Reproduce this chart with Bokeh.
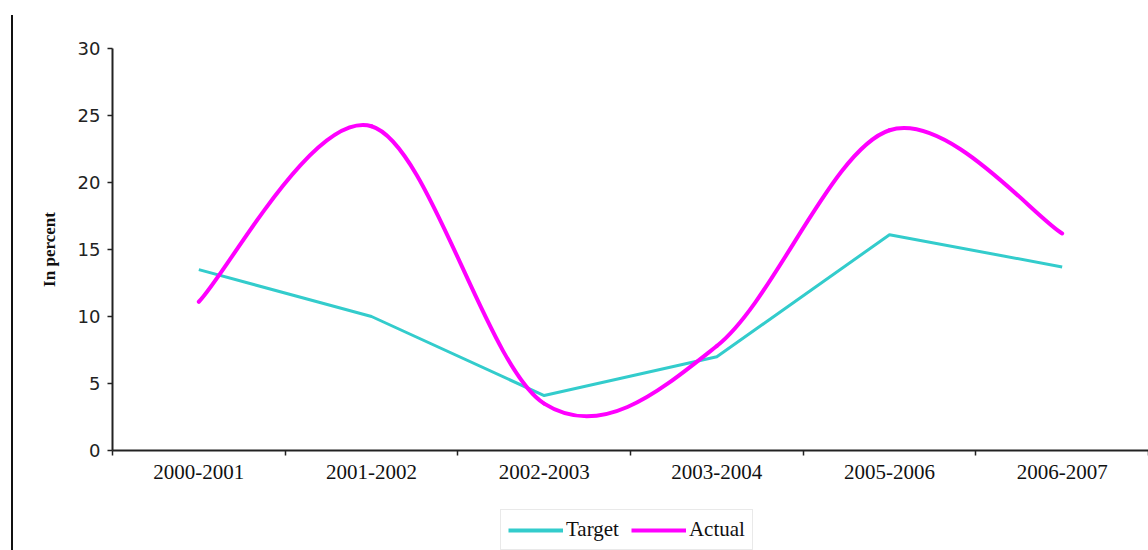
from bokeh.plotting import figure
from bokeh.models import FixedTicker, Legend, LegendItem, Range1d, Div
from bokeh.layouts import row, column
from bokeh.embed import file_html
from bokeh.resources import INLINE

# Plan targets versus actual outcomes, per year
years = ["2000-2001", "2001-2002", "2002-2003", "2003-2004", "2005-2006", "2006-2007"]
target = [13.5, 10.0, 4.1, 7.0, 16.1, 13.7]
actual = [11.1, 24.2, 3.5, 7.8, 23.9, 16.2]
y_ticks = [0, 5, 10, 15, 20, 25, 30]

TARGET_COLOR = "#33CCCC"
ACTUAL_COLOR = "#FF00FF"

xs = list(range(1, len(years) + 1))


def smooth_segments(x, y):
    """Cubic Bezier pieces through every point (Catmull-Rom style smoothing)."""
    n = len(x)
    seg = {k: [] for k in ("x0", "y0", "x1", "y1", "cx0", "cy0", "cx1", "cy1")}
    for i in range(n - 1):
        a = max(i - 1, 0)
        d = min(i + 2, n - 1)
        seg["x0"].append(x[i]); seg["y0"].append(y[i])
        seg["x1"].append(x[i + 1]); seg["y1"].append(y[i + 1])
        seg["cx0"].append(x[i] + (x[i + 1] - x[a]) / 6)
        seg["cy0"].append(y[i] + (y[i + 1] - y[a]) / 6)
        seg["cx1"].append(x[i + 1] - (x[d] - x[i]) / 6)
        seg["cy1"].append(y[i + 1] - (y[d] - y[i]) / 6)
    return seg


p = figure(
    width=1135, height=505,
    x_range=Range1d(0.5, len(years) + 0.5),
    y_range=Range1d(y_ticks[0], y_ticks[-1]),
    output_backend="svg", toolbar_location=None,
    min_border_left=99, min_border_right=0, min_border_top=48, min_border_bottom=55,
)
p.outline_line_color = None
p.xgrid.visible = False
p.ygrid.visible = False
p.background_fill_color = "white"
p.border_fill_color = "white"

p.line(xs, target, line_color=TARGET_COLOR, line_width=3, line_join="round")
p.bezier(line_color=ACTUAL_COLOR, line_width=4, line_cap="round",
         source=smooth_segments(xs, actual),
         x0="x0", y0="y0", x1="x1", y1="y1",
         cx0="cx0", cy0="cy0", cx1="cx1", cy1="cy1")

# x axis: labels centred on categories, tick marks between them
xa = p.xaxis[0]
xa.ticker = FixedTicker(ticks=xs, minor_ticks=[v + 0.5 for v in range(len(years) + 1)])
xa.major_label_overrides = {x: lab for x, lab in zip(xs, years)}
xa.major_tick_line_color = None
xa.major_tick_out = 5
xa.major_tick_in = 0
xa.minor_tick_out = 5
xa.minor_tick_in = 0
xa.minor_tick_line_color = "#222222"
xa.minor_tick_line_width = 1.5
xa.axis_line_color = "#222222"
xa.axis_line_width = 2
xa.major_label_text_font = "Liberation Serif"
xa.major_label_text_font_size = "21px"
xa.major_label_text_color = "#111111"
xa.major_label_standoff = 9

ya = p.yaxis[0]
ya.ticker = FixedTicker(ticks=y_ticks, minor_ticks=[])
ya.major_tick_out = 5
ya.major_tick_in = 0
ya.major_tick_line_color = "#222222"
ya.major_tick_line_width = 1.5
ya.axis_line_color = "#222222"
ya.axis_line_width = 2
ya.major_label_text_font = "DejaVu Sans"
ya.major_label_text_font_size = "18px"
ya.major_label_text_color = "#222222"
ya.major_label_standoff = 7
ya.axis_label = "In percent"
ya.axis_label_text_font = "Liberation Serif"
ya.axis_label_text_font_style = "bold"
ya.axis_label_text_font_size = "17px"
ya.axis_label_text_color = "#111111"
ya.axis_label_standoff = 16

# strip under the chart holding the legend; its frame lines up with the chart's
lg = figure(width=1135, height=45, output_backend="svg", toolbar_location=None,
            x_range=Range1d(-100, -99), y_range=Range1d(-100, -99),
            min_border=0, x_axis_type=None, y_axis_type=None)
lg.outline_line_color = None
lg.xgrid.visible = False
lg.ygrid.visible = False
# the series themselves lie outside this strip's ranges; only their keys show
key_target = lg.line(xs, target, line_color=TARGET_COLOR, line_width=4)
key_actual = lg.line(xs, actual, line_color=ACTUAL_COLOR, line_width=4)

legend = Legend(
    items=[LegendItem(label="Target", renderers=[key_target]),
           LegendItem(label="Actual", renderers=[key_actual])],
    orientation="horizontal", location=(388, 0),
    label_text_font="Liberation Serif", label_text_font_size="21px",
    label_text_color="#111111",
    glyph_width=55, glyph_height=20, label_standoff=3, spacing=12,
    padding=7, margin=0,
    border_line_color="#d4d4d4", border_line_width=1,
    background_fill_alpha=1,
)
lg.add_layout(legend, "center")

# thin rule along the left edge of the chart area
edge = Div(width=13, height=535, margin=(15, 0, 0, 0),
           styles={"border-right": "2px solid #111111", "box-sizing": "border-box"})

page = row(edge, column(p, lg, spacing=0), spacing=0)
open("out.html", "w").write(file_html(page, INLINE))
